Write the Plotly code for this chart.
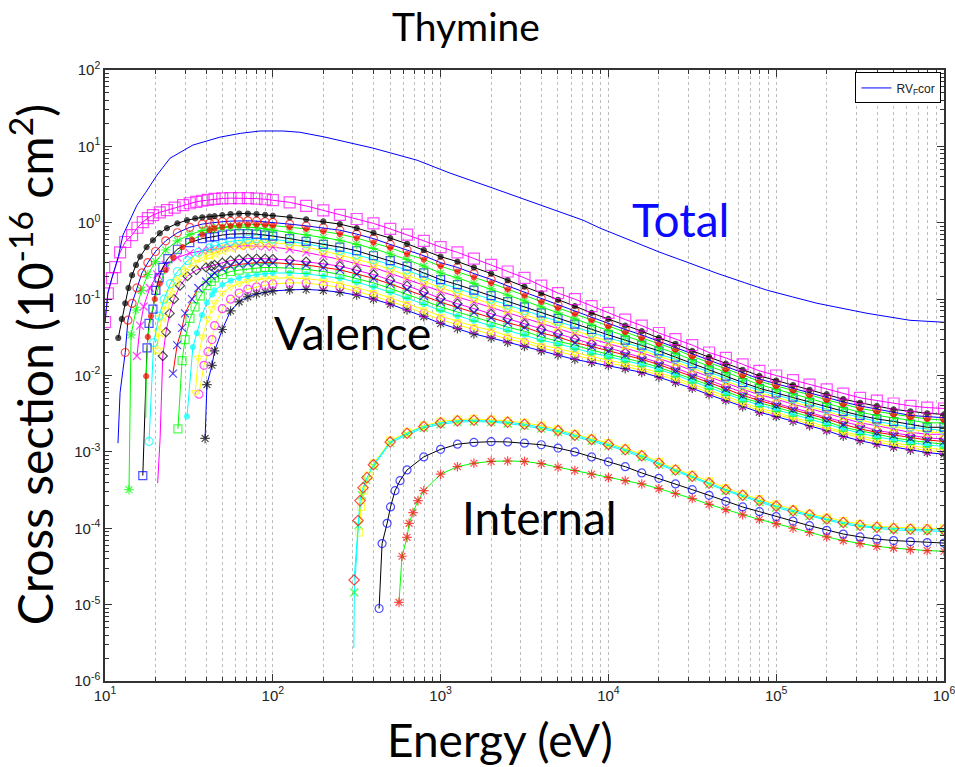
import plotly.graph_objects as go

# ---------------------------------------------------------------------------
# Energy grid (eV) shared by every curve above 45 eV
# ---------------------------------------------------------------------------
energy_grid = [45, 50, 56, 63, 71, 80, 90, 100, 126, 158, 200,
               251, 316, 398, 501, 631, 794, 1000, 1260, 1580, 2000,
               2510, 3160, 3980, 5010, 6310, 7940,
               1.0e4, 1.26e4, 1.58e4, 2.0e4, 2.51e4, 3.16e4, 3.98e4, 5.01e4, 6.31e4, 7.94e4,
               1.0e5, 1.26e5, 1.58e5, 2.0e5, 2.51e5, 3.16e5, 3.98e5, 5.01e5, 6.31e5, 7.94e5,
               1.0e6]

# Total cross section (RV_F cor)
total_energy = [10.0, 10.4, 11.0, 11.5, 12.0, 12.8, 14.0, 15.5, 17.5, 20.4, 24.4,
                33.4, 48.4, 64, 84, 115, 145, 199, 270, 395, 723,
                1137, 1970, 3555, 5000, 7063, 8920, 1.3e4, 2.03e4, 3.0e4, 4.43e4,
                6.5e4, 8.8e4, 1.25e5, 1.75e5, 3.47e5, 6.27e5, 1.0e6]
total_xs = [0.05, 0.12, 0.19, 0.27, 0.36, 0.69, 1.05, 1.70, 2.5, 4.2, 7.0,
            10.4, 13.2, 14.8, 15.9, 15.9, 15.3, 13.4, 11.5, 9.5, 6.6,
            4.47, 2.93, 1.86, 1.42, 1.08, 0.85, 0.61, 0.41, 0.30, 0.218,
            0.164, 0.131, 0.107, 0.0883, 0.0653, 0.0528, 0.0498]

# ---------------------------------------------------------------------------
# Valence orbitals: near-threshold points, then values on energy_grid
# ---------------------------------------------------------------------------
v01_onset_e = [10.0, 10.4, 11.0, 11.5, 12.3, 13.2, 14.5, 15.6, 16.8, 18.0, 19.3, 21.2, 23.4, 26.0, 29.2, 32.0, 35.0, 38.0, 41.0]
v01_onset_v = [0.05, 0.119, 0.188, 0.262, 0.41, 0.56, 0.69, 0.86, 1.02, 1.15, 1.26, 1.37, 1.46, 1.58, 1.70, 1.80, 1.88, 1.94, 1.99]
v01_grid = [2.05, 2.08, 2.10, 2.10, 2.10, 2.07, 2.03, 1.98, 1.85, 1.66, 1.45,
            1.27, 1.12, 0.98, 0.83, 0.70, 0.58, 0.48, 0.41, 0.34, 0.28,
            0.23, 0.19, 0.15, 0.12, 0.10, 0.081,
            0.066, 0.054, 0.045, 0.036, 0.030, 0.025, 0.020, 0.017, 0.014, 0.0115,
            0.010, 0.0087, 0.0076, 0.0066, 0.0058, 0.0051, 0.0047, 0.0043, 0.0040, 0.0038,
            0.0037]

v02_onset_e = [12.0, 12.6, 13.2, 13.8, 14.5, 15.3, 16.2, 17.7, 19.3, 21.2, 23.4, 27.0, 30.8, 34.5, 38.0, 42.0]
v02_onset_v = [0.031, 0.055, 0.088, 0.14, 0.206, 0.28, 0.36, 0.48, 0.59, 0.73, 0.85, 0.98, 1.08, 1.14, 1.18, 1.20]
v02_grid = [1.22, 1.26, 1.30, 1.32, 1.32, 1.30, 1.27, 1.24, 1.18, 1.11, 1.04,
            0.96, 0.85, 0.74, 0.63, 0.53, 0.44, 0.36, 0.31, 0.26, 0.216,
            0.177, 0.146, 0.119, 0.098, 0.081, 0.066,
            0.055, 0.045, 0.038, 0.031, 0.026, 0.021, 0.0175, 0.0143, 0.0119, 0.0099,
            0.0086, 0.0075, 0.0065, 0.0057, 0.0049, 0.0044, 0.0040, 0.0036, 0.0034, 0.0032,
            0.0031]

v03_onset_e = [11.95, 12.3, 13.2, 13.7, 14.5, 15.5, 16.6, 18.0, 20.0, 23.0, 27.0, 32.0, 38.0, 42.0]
v03_onset_v = [0.0013, 0.006, 0.020, 0.053, 0.088, 0.14, 0.22, 0.30, 0.42, 0.58, 0.74, 0.87, 0.96, 0.99]
v03_grid = [1.01, 1.03, 1.05, 1.06, 1.06, 1.05, 1.03, 1.01, 0.96, 0.91, 0.86,
            0.80, 0.71, 0.62, 0.52, 0.44, 0.37, 0.30, 0.26, 0.216, 0.181,
            0.149, 0.124, 0.102, 0.084, 0.070, 0.058,
            0.048, 0.040, 0.034, 0.028, 0.023, 0.019, 0.0158, 0.0129, 0.0107, 0.0090,
            0.0078, 0.0068, 0.0059, 0.0051, 0.0045, 0.0040, 0.0036, 0.0033, 0.0030, 0.0029,
            0.0028]

v04_onset_e = [17.5, 17.6, 18.0, 18.8, 19.8, 21.2, 23.0, 25.5, 29.0, 33.0, 38.0, 42.0]
v04_onset_v = [0.0028, 0.0098, 0.032, 0.06, 0.10, 0.16, 0.24, 0.35, 0.48, 0.60, 0.70, 0.80]
v04_grid = [0.84, 0.88, 0.91, 0.93, 0.95, 0.95, 0.94, 0.92, 0.88, 0.83, 0.77,
            0.71, 0.63, 0.55, 0.47, 0.39, 0.33, 0.27, 0.23, 0.193, 0.162,
            0.134, 0.111, 0.092, 0.077, 0.064, 0.053,
            0.044, 0.037, 0.031, 0.026, 0.022, 0.0178, 0.0148, 0.0121, 0.0100, 0.0084,
            0.0073, 0.0064, 0.0056, 0.0048, 0.0042, 0.0037, 0.0034, 0.0031, 0.0029, 0.0027,
            0.0026]

v05_onset_e = [13.9, 14.3, 15.3, 16.5, 18.0, 20.0, 23.0, 27.0, 32.0, 38.0, 42.0]
v05_onset_v = [0.00032, 0.034, 0.072, 0.13, 0.21, 0.31, 0.44, 0.58, 0.70, 0.79, 0.82]
v05_grid = [0.84, 0.86, 0.88, 0.88, 0.87, 0.86, 0.83, 0.80, 0.75, 0.70, 0.64,
            0.59, 0.52, 0.46, 0.39, 0.33, 0.27, 0.22, 0.19, 0.161, 0.136,
            0.113, 0.095, 0.079, 0.066, 0.055, 0.046,
            0.039, 0.033, 0.028, 0.023, 0.0196, 0.0160, 0.0133, 0.0109, 0.0091, 0.0076,
            0.0066, 0.0058, 0.0050, 0.0043, 0.0038, 0.0033, 0.0030, 0.0028, 0.0026, 0.0024,
            0.0024]

v06_onset_e = [16.8, 17.8, 18.3, 19.3, 20.1, 21.0, 22.1, 23.7, 27.0, 32.0, 38.0, 42.0]
v06_onset_v = [0.00049, 0.023, 0.048, 0.074, 0.13, 0.19, 0.26, 0.34, 0.45, 0.55, 0.62, 0.65]
v06_grid = [0.66, 0.69, 0.71, 0.72, 0.72, 0.71, 0.69, 0.67, 0.62, 0.57, 0.52,
            0.48, 0.43, 0.37, 0.32, 0.27, 0.22, 0.18, 0.155, 0.131, 0.111,
            0.093, 0.079, 0.066, 0.056, 0.047, 0.040,
            0.034, 0.029, 0.025, 0.021, 0.0174, 0.0143, 0.0119, 0.0098, 0.0081, 0.0068,
            0.0059, 0.0052, 0.0045, 0.0039, 0.0034, 0.0030, 0.0027, 0.0025, 0.0023, 0.0021,
            0.0021]

v07_onset_e = [18.3, 19.5, 21.0, 22.5, 24.5, 27.0, 31.0, 36.0, 42.0]
v07_onset_v = [0.00137, 0.027, 0.06, 0.10, 0.16, 0.23, 0.32, 0.41, 0.47]
v07_grid = [0.50, 0.54, 0.57, 0.59, 0.61, 0.62, 0.62, 0.61, 0.57, 0.53, 0.48,
            0.43, 0.38, 0.33, 0.28, 0.24, 0.196, 0.162, 0.138, 0.117, 0.100,
            0.084, 0.071, 0.060, 0.051, 0.043, 0.036,
            0.031, 0.027, 0.023, 0.019, 0.0163, 0.0134, 0.0111, 0.0091, 0.0076, 0.0064,
            0.0056, 0.0049, 0.0042, 0.0036, 0.0032, 0.0028, 0.0025, 0.0023, 0.0021, 0.0020,
            0.0019]

v08_onset_e = [20.4, 21.0, 21.9, 23.0, 24.5, 26.5, 29.5, 33.5, 38.0, 42.0]
v08_onset_v = [0.0216, 0.037, 0.058, 0.085, 0.12, 0.17, 0.23, 0.30, 0.35, 0.38]
v08_grid = [0.40, 0.44, 0.48, 0.51, 0.53, 0.545, 0.55, 0.55, 0.52, 0.48, 0.43,
            0.375, 0.33, 0.29, 0.245, 0.207, 0.171, 0.141, 0.120, 0.103, 0.087,
            0.074, 0.063, 0.053, 0.045, 0.039, 0.033,
            0.028, 0.025, 0.021, 0.0179, 0.0151, 0.0124, 0.0103, 0.0085, 0.0070, 0.0059,
            0.0052, 0.0045, 0.0039, 0.0034, 0.0029, 0.0026, 0.0023, 0.0021, 0.0020, 0.0018,
            0.0018]

v09_onset_e = [15.5, 16.2, 17.0, 18.5, 20.5, 23.0, 27.0, 32.0, 38.0, 42.0]
v09_onset_v = [0.018, 0.045, 0.08, 0.14, 0.21, 0.28, 0.35, 0.40, 0.43, 0.44]
v09_grid = [0.45, 0.47, 0.49, 0.50, 0.50, 0.50, 0.49, 0.48, 0.45, 0.41, 0.37,
            0.33, 0.29, 0.26, 0.218, 0.184, 0.152, 0.126, 0.107, 0.092, 0.078,
            0.066, 0.057, 0.048, 0.041, 0.035, 0.030,
            0.026, 0.023, 0.0198, 0.0167, 0.0141, 0.0116, 0.0097, 0.0080, 0.0066, 0.0056,
            0.0049, 0.0042, 0.0037, 0.0032, 0.0028, 0.0024, 0.0022, 0.0020, 0.0018, 0.0017,
            0.0017]

v10_onset_e = [25.4, 26.9, 28.8, 30.0, 33.0, 36.0, 40.0, 43.0]
v10_onset_v = [0.0106, 0.025, 0.042, 0.065, 0.10, 0.14, 0.17, 0.20]
v10_grid = [0.22, 0.25, 0.27, 0.285, 0.295, 0.30, 0.30, 0.30, 0.29, 0.28, 0.26,
            0.242, 0.213, 0.187, 0.158, 0.133, 0.110, 0.091, 0.078, 0.067, 0.057,
            0.049, 0.043, 0.036, 0.032, 0.027, 0.024,
            0.021, 0.0186, 0.0163, 0.0139, 0.0117, 0.0097, 0.0081, 0.0067, 0.0055, 0.0047,
            0.0041, 0.0036, 0.0031, 0.0027, 0.0023, 0.0020, 0.0018, 0.00166, 0.00152, 0.00143,
            0.00137]

v11_onset_e = [20.6, 21.3, 22.1, 23.1, 24.3, 25.8, 28.0, 31.0, 35.0, 40.0, 43.0]
v11_onset_v = [0.00039, 0.0015, 0.018, 0.037, 0.065, 0.10, 0.15, 0.20, 0.24, 0.26, 0.27]
v11_grid = [0.28, 0.30, 0.32, 0.33, 0.34, 0.34, 0.34, 0.335, 0.325, 0.31, 0.29,
            0.27, 0.24, 0.21, 0.177, 0.150, 0.124, 0.102, 0.087, 0.075, 0.064,
            0.055, 0.047, 0.040, 0.035, 0.030, 0.026,
            0.023, 0.020, 0.0174, 0.0148, 0.0125, 0.0104, 0.0086, 0.0071, 0.0059, 0.0050,
            0.0043, 0.0038, 0.0033, 0.0028, 0.0025, 0.0022, 0.0019, 0.00177, 0.00163, 0.00153,
            0.00147]

v12_onset_e = [27.2, 28.8, 30.0, 32.1, 34.4, 37.0, 40.5, 43.0]
v12_onset_v = [0.0020, 0.0157, 0.0295, 0.056, 0.079, 0.11, 0.15, 0.17]
v12_grid = [0.19, 0.21, 0.23, 0.24, 0.25, 0.255, 0.26, 0.26, 0.255, 0.245, 0.23,
            0.211, 0.186, 0.163, 0.138, 0.116, 0.096, 0.079, 0.068, 0.058, 0.050,
            0.043, 0.038, 0.032, 0.028, 0.025, 0.0215,
            0.0191, 0.0170, 0.0149, 0.0128, 0.0108, 0.0090, 0.0075, 0.0062, 0.0051, 0.0044,
            0.0038, 0.0033, 0.0029, 0.0025, 0.0021, 0.0019, 0.00168, 0.00153, 0.00141, 0.00132,
            0.00126]

v13_onset_e = [30.8, 33.4, 35.3, 37.8, 40.5, 43.5]
v13_onset_v = [0.0029, 0.0236, 0.036, 0.062, 0.09, 0.115]
v13_grid = [0.13, 0.155, 0.175, 0.19, 0.20, 0.21, 0.215, 0.22, 0.22, 0.215, 0.20,
            0.188, 0.166, 0.145, 0.123, 0.104, 0.086, 0.071, 0.060, 0.052, 0.045,
            0.039, 0.034, 0.029, 0.026, 0.0225, 0.0198,
            0.0177, 0.0158, 0.0139, 0.0120, 0.0102, 0.0084, 0.0070, 0.0058, 0.0048, 0.0041,
            0.0036, 0.0031, 0.0027, 0.0023, 0.0020, 0.00176, 0.00157, 0.00144, 0.00132, 0.00123,
            0.00118]

v14_onset_e = [34.5, 36.0, 38.0, 41.0, 43.5]
v14_onset_v = [0.006, 0.017, 0.032, 0.055, 0.075]
v14_grid = [0.09, 0.12, 0.145, 0.16, 0.172, 0.18, 0.185, 0.188, 0.19, 0.185, 0.175,
            0.160, 0.141, 0.123, 0.104, 0.088, 0.073, 0.060, 0.051, 0.044, 0.039,
            0.033, 0.029, 0.025, 0.0225, 0.0199, 0.0175,
            0.0158, 0.0143, 0.0126, 0.0109, 0.0093, 0.0077, 0.0064, 0.0053, 0.0044, 0.0037,
            0.0033, 0.0028, 0.0025, 0.0021, 0.00184, 0.00161, 0.00144, 0.00131, 0.0012, 0.00112,
            0.00107]

v15_onset_e = [36.3, 38.9, 41.1, 43.4]
v15_onset_v = [0.0057, 0.0136, 0.0205, 0.0295]
v15_grid = [0.045, 0.075, 0.10, 0.12, 0.135, 0.145, 0.152, 0.158, 0.163, 0.163, 0.152,
            0.143, 0.126, 0.110, 0.093, 0.079, 0.065, 0.054, 0.046, 0.040, 0.035,
            0.030, 0.027, 0.023, 0.0205, 0.0182, 0.0161,
            0.0146, 0.0132, 0.0117, 0.0102, 0.0087, 0.0072, 0.0060, 0.0050, 0.0041, 0.0035,
            0.0031, 0.0027, 0.0023, 0.0020, 0.00173, 0.00151, 0.00134, 0.00122, 0.00112, 0.00104,
            0.00100]

v16_onset_e = [39.5, 40.5, 43.4]
v16_onset_v = [0.0015, 0.0076, 0.0136]
v16_grid = [0.021, 0.040, 0.070, 0.092, 0.107, 0.117, 0.123, 0.128, 0.132, 0.134, 0.130,
            0.123, 0.113, 0.100, 0.086, 0.072, 0.059, 0.048, 0.041, 0.035, 0.031,
            0.027, 0.024, 0.021, 0.0186, 0.0162, 0.0148,
            0.0135, 0.0123, 0.0110, 0.0095, 0.0081, 0.0068, 0.0056, 0.0047, 0.0039, 0.0033,
            0.0029, 0.0025, 0.0022, 0.0019, 0.0016, 0.0014, 0.00126, 0.00115, 0.00105, 0.00098,
            0.00093]

# ---------------------------------------------------------------------------
# Internal (inner-shell) orbitals: onset points, then values on the upper
# end of energy_grid
# ---------------------------------------------------------------------------
i1_onset_e = [305, 322, 331, 345, 364]
i1_onset_v = [2.1e-5, 1.26e-4, 2.3e-4, 3.4e-4, 4.6e-4]
i1_grid = [6.8e-4, 1.35e-3, 1.75e-3, 2.15e-3, 2.4e-3, 2.55e-3, 2.6e-3, 2.55e-3, 2.45e-3, 2.3e-3,
           2.1e-3, 1.9e-3, 1.65e-3, 1.45e-3, 1.25e-3, 1.07e-3, 8.9e-4, 7.1e-4, 5.8e-4, 4.8e-4,
           3.9e-4, 3.2e-4, 2.7e-4, 2.3e-4, 1.95e-4, 1.7e-4, 1.5e-4, 1.32e-4, 1.19e-4, 1.09e-4,
           1.03e-4, 9.9e-5, 9.7e-5, 9.6e-5, 9.5e-5]

i2_onset_e = [327, 336, 350, 372]
i2_onset_v = [8.8e-5, 1.9e-4, 3.1e-4, 4.9e-4]
i2_grid = [7.0e-4, 1.4e-3, 1.8e-3, 2.2e-3, 2.5e-3, 2.65e-3, 2.7e-3, 2.65e-3, 2.55e-3, 2.4e-3,
           2.2e-3, 1.97e-3, 1.72e-3, 1.5e-3, 1.3e-3, 1.11e-3, 9.3e-4, 7.4e-4, 6.0e-4, 5.0e-4,
           4.1e-4, 3.35e-4, 2.8e-4, 2.4e-4, 2.05e-4, 1.77e-4, 1.56e-4, 1.38e-4, 1.24e-4, 1.14e-4,
           1.07e-4, 1.03e-4, 1.01e-4, 1.0e-4, 9.9e-5]

i3_onset_e = [304, 306, 324, 340, 360]
i3_onset_v = [2.7e-6, 1.44e-5, 1.1e-4, 2.7e-4, 4.3e-4]
i3_grid = [6.5e-4, 1.3e-3, 1.68e-3, 2.06e-3, 2.3e-3, 2.45e-3, 2.5e-3, 2.45e-3, 2.35e-3, 2.2e-3,
           2.02e-3, 1.82e-3, 1.58e-3, 1.39e-3, 1.2e-3, 1.03e-3, 8.5e-4, 6.8e-4, 5.6e-4, 4.6e-4,
           3.75e-4, 3.1e-4, 2.6e-4, 2.2e-4, 1.87e-4, 1.63e-4, 1.44e-4, 1.27e-4, 1.14e-4, 1.05e-4,
           9.9e-5, 9.5e-5, 9.3e-5, 9.2e-5, 9.1e-5]

i4_onset_e = [430, 448, 480, 503, 535, 573]
i4_onset_v = [8.9e-6, 6.3e-5, 1.16e-4, 1.9e-4, 3.1e-4, 4.2e-4]
i4_grid = [5.8e-4, 8.6e-4, 1.08e-3, 1.26e-3, 1.33e-3, 1.36e-3, 1.35e-3, 1.3e-3, 1.24e-3,
           1.12e-3, 1.0e-3, 8.6e-4, 7.4e-4, 6.4e-4, 5.3e-4, 4.5e-4, 3.8e-4, 3.2e-4, 2.7e-4,
           2.25e-4, 1.9e-4, 1.65e-4, 1.42e-4, 1.24e-4, 1.08e-4, 9.4e-5, 8.4e-5, 7.7e-5, 7.2e-5,
           6.9e-5, 6.7e-5, 6.5e-5, 6.4e-5]

i5_onset_e = [565, 589, 631, 649, 685, 733]
i5_onset_v = [1.07e-5, 4.3e-5, 7.6e-5, 1.16e-4, 1.6e-4, 2.3e-4]
i5_grid = [3.1e-4, 5.1e-4, 6.4e-4, 7.1e-4, 7.5e-4, 7.6e-4, 7.5e-4, 7.0e-4, 6.3e-4, 5.7e-4,
           5.1e-4, 4.6e-4, 4.2e-4, 3.8e-4, 3.3e-4, 2.85e-4, 2.45e-4, 2.05e-4, 1.75e-4, 1.5e-4,
           1.3e-4, 1.15e-4, 1.0e-4, 8.8e-5, 7.7e-5, 6.9e-5, 6.3e-5, 5.8e-5, 5.5e-5, 5.25e-5,
           5.1e-5, 5.0e-5]

# MATLAB-style colours
B, G, R, C, M, Y, K = "#0000ff", "#00ff00", "#ff0000", "#00ffff", "#ff00ff", "#ffff00", "#000000"

# (onset E, onset values, grid values, symbol, marker colour, line colour, size, bare leading points)
valence = [
    (v16_onset_e, v16_onset_v, v16_grid, "asterisk-open", K, B, 8, 0),
    (v15_onset_e, v15_onset_v, v15_grid, "circle-open", M, Y, 8, 0),
    (v14_onset_e, v14_onset_v, v14_grid, "triangle-down-open", Y, Y, 7, 0),
    (v13_onset_e, v13_onset_v, v13_grid, "circle", C, C, 5, 0),
    (v12_onset_e, v12_onset_v, v12_grid, "square-open", G, G, 8, 0),
    (v11_onset_e, v11_onset_v, v11_grid, "diamond-open", K, M, 7, 2),
    (v10_onset_e, v10_onset_v, v10_grid, "x-thin-open", B, R, 8, 0),
    (v09_onset_e, v09_onset_v, v09_grid, "x-thin-open", M, M, 8, 0),
    (v08_onset_e, v08_onset_v, v08_grid, "star-open", Y, Y, 9, 0),
    (v07_onset_e, v07_onset_v, v07_grid, "circle-open", C, C, 8, 0),
    (v06_onset_e, v06_onset_v, v06_grid, "square-open", B, K, 8, 0),
    (v05_onset_e, v05_onset_v, v05_grid, "asterisk-open", G, G, 8, 0),
    (v04_onset_e, v04_onset_v, v04_grid, "circle", R, G, 5, 1),
    (v03_onset_e, v03_onset_v, v03_grid, "circle-open", R, B, 8, 2),
    (v02_onset_e, v02_onset_v, v02_grid, "circle", K, K, 5, 0),
    (v01_onset_e, v01_onset_v, v01_grid, "square-open", M, M, 11, 0),
]

internal = [
    (i5_onset_e, i5_onset_v, i5_grid, "asterisk-open", R, G, 8, 0),
    (i4_onset_e, i4_onset_v, i4_grid, "circle-open", B, K, 8, 0),
    (i3_onset_e, i3_onset_v, i3_grid, "x-thin-open", G, C, 8, 1),
    (i2_onset_e, i2_onset_v, i2_grid, "square-open", Y, Y, 7, 0),
    (i1_onset_e, i1_onset_v, i1_grid, "diamond-open", R, C, 8, 0),
]

fig = go.Figure()


def add_curve(energies, values, symbol, mcolor, lcolor, size, bare):
    sizes = [0] * bare + [size] * (len(energies) - bare)
    fig.add_trace(go.Scatter(
        x=energies, y=values, mode="lines+markers", showlegend=False,
        line=dict(color=lcolor, width=1),
        marker=dict(symbol=symbol, color=mcolor, size=sizes,
                    line=dict(color=mcolor, width=1.2)),
        hoverinfo="skip",
    ))


for onset_e, onset_v, grid_v, sym, mc, lc, size, bare in internal:
    tail_e = energy_grid[len(energy_grid) - len(grid_v):]
    add_curve(onset_e + tail_e, onset_v + grid_v, sym, mc, lc, size, bare)

for onset_e, onset_v, grid_v, sym, mc, lc, size, bare in valence:
    assert len(grid_v) == len(energy_grid)
    add_curve(onset_e + energy_grid, onset_v + grid_v, sym, mc, lc, size, bare)

fig.add_trace(go.Scatter(
    x=total_energy, y=total_xs, mode="lines", name="RV<sub>F</sub>cor",
    line=dict(color=B, width=1), showlegend=True,
))

# Axis ticks: decades labelled, digits 2..9 as minor ticks
x_major = [10 ** k for k in range(1, 7)]
y_major = [10 ** k for k in range(-6, 3)]
x_minor = [d * 10 ** k for k in range(1, 6) for d in range(2, 10)]
y_minor = [d * 10.0 ** k for k in range(-6, 2) for d in range(2, 10)]
x_text = ["10<sup>%d</sup>" % k for k in range(1, 7)]
y_text = ["10<sup>%d</sup>" % k for k in range(-6, 3)]

tick_font = dict(family="Liberation Sans, Arial, sans-serif", size=15, color="#222222")
axis_common = dict(
    type="log", showline=True, linecolor="#333333", linewidth=1.5, mirror="allticks",
    ticks="inside", ticklen=7, tickwidth=1, tickcolor="#333333", tickfont=tick_font,
    zeroline=False, automargin=False, ticklabeloverflow="allow",
)

fig.update_xaxes(
    **axis_common, range=[1, 6], tickmode="array", tickvals=x_major, ticktext=x_text,
    showgrid=True, gridcolor="#bcbcbc", griddash="dot", gridwidth=1,
    minor=dict(tickmode="array", tickvals=x_minor, ticks="inside", ticklen=4,
               tickcolor="#333333", showgrid=True, gridcolor="#bcbcbc",
               griddash="dot", gridwidth=1),
)
fig.update_yaxes(
    **axis_common, range=[-6, 2], tickmode="array", tickvals=y_major, ticktext=y_text,
    showgrid=False,
    minor=dict(tickmode="array", tickvals=y_minor, ticks="inside", ticklen=4,
               tickcolor="#333333", showgrid=False),
)

label_font = "Lato, Noto Sans, sans-serif"
annotations = [
    dict(text="Thymine", x=0.430, y=1.072, font=dict(size=39, color="black", family=label_font)),
    dict(text="Energy (eV)", x=0.471, y=-0.095, font=dict(size=46, color="black", family=label_font)),
    dict(text="Cross section (10<sup>-16</sup> cm<sup>2</sup>)", x=-0.088, y=0.517, textangle=-90,
         font=dict(size=48, color="black", family=label_font)),
    dict(text="Total", x=0.6865, y=0.756, font=dict(size=46, color="#0a0aff", family=label_font)),
    dict(text="Valence", x=0.2944, y=0.5696, font=dict(size=46, color="black", family=label_font)),
    dict(text="Internal", x=0.5175, y=0.268, font=dict(size=46, color="black", family=label_font)),
]
for a in annotations:
    a.update(xref="paper", yref="paper", showarrow=False, xanchor="center", yanchor="middle")

fig.update_layout(
    width=955, height=767,
    margin=dict(l=105, r=11, t=70, b=86),
    paper_bgcolor="white", plot_bgcolor="white",
    annotations=annotations,
    showlegend=True,
    legend=dict(x=0.997, y=0.996, xanchor="right", yanchor="top",
                bgcolor="white", bordercolor="black", borderwidth=1,
                font=dict(family="Liberation Sans, Arial, sans-serif", size=12, color="#222222"),
                itemwidth=30, tracegroupgap=0),
)

fig.write_html("out.html")
